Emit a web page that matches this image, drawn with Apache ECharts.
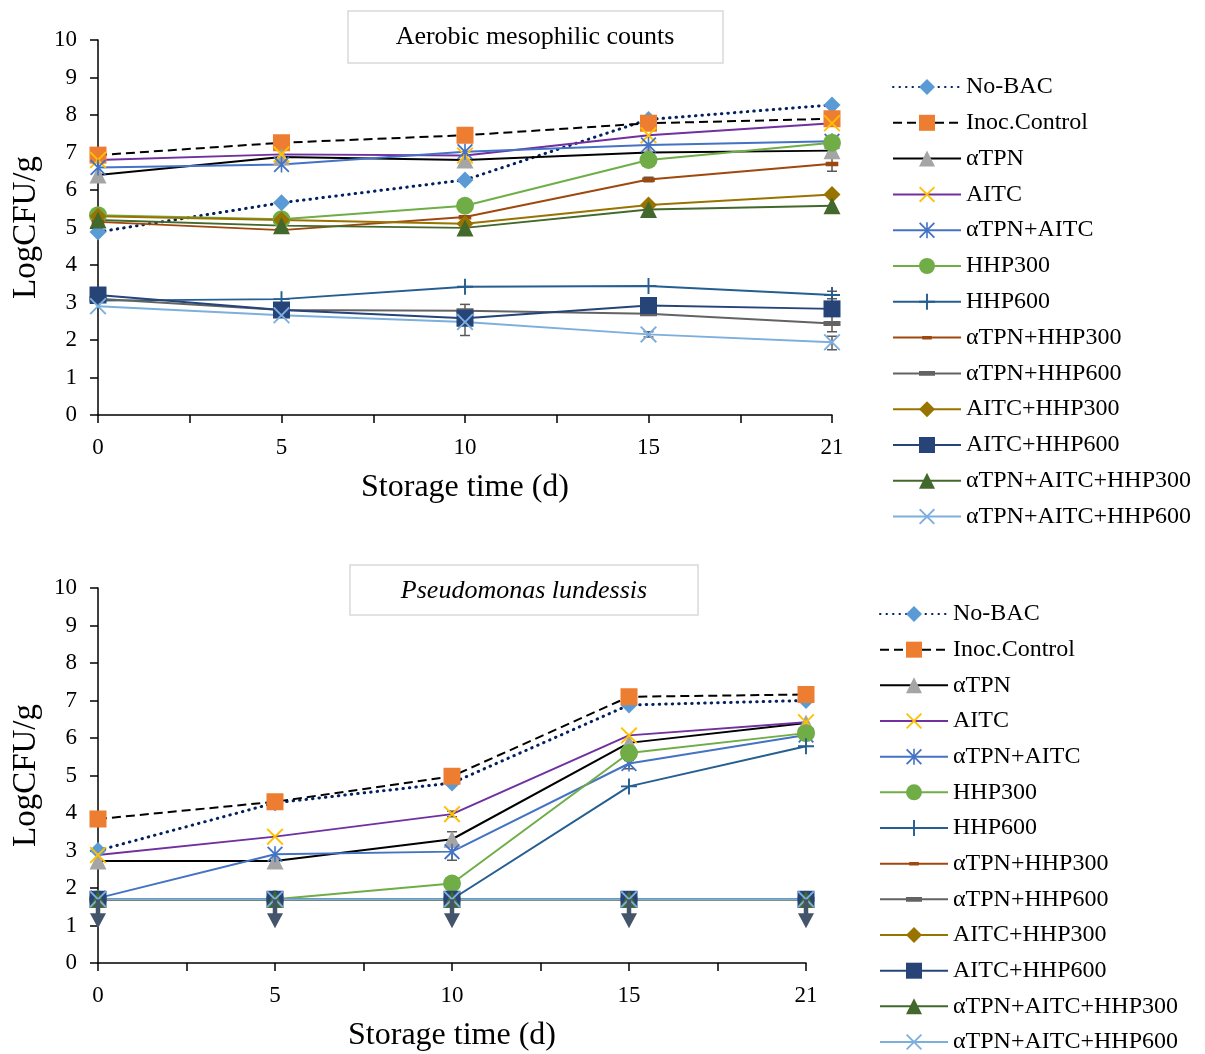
<!DOCTYPE html>
<html><head><meta charset="utf-8">
<script src="https://cdn.jsdelivr.net/npm/echarts@6/dist/echarts.min.js"></script>
<style>html,body{margin:0;padding:0;background:#fff}#c{width:1205px;height:1054px}</style>
</head><body><div id="c"></div>
<script>
// ---------- DATA ----------
const days = ['0', '5', '10', '15', '21'];
const yTicks = [0, 1, 2, 3, 4, 5, 6, 7, 8, 9, 10];
const seriesNames = ['No-BAC', 'Inoc.Control', 'αTPN', 'AITC', 'αTPN+AITC', 'HHP300', 'HHP600',
  'αTPN+HHP300', 'αTPN+HHP600', 'AITC+HHP300', 'AITC+HHP600', 'αTPN+AITC+HHP300', 'αTPN+AITC+HHP600'];
const topTitle = 'Aerobic mesophilic counts';
const bottomTitle = 'Pseudomonas lundessis';
const yName = 'LogCFU/g';
const xName = 'Storage time (d)';

// Top panel: Aerobic mesophilic counts
const amcNoBac      = [4.88, 5.66, 6.27, 7.88, 8.27];
const amcInoc       = [6.93, 7.26, 7.46, 7.78, 7.90];
const amcTPN        = [6.40, 6.88, 6.80, 7.00, 7.05];
const amcAITC       = [6.80, 6.95, 6.92, 7.46, 7.78];
const amcTPNAITC    = [6.60, 6.68, 7.02, 7.20, 7.30];
const amcHHP300     = [5.33, 5.22, 5.58, 6.80, 7.26];
const amcHHP600     = [3.05, 3.09, 3.42, 3.44, 3.20];
const amcTPNHHP300  = [5.15, 4.93, 5.28, 6.28, 6.70];
const amcTPNHHP600  = [3.10, 2.80, 2.78, 2.70, 2.44];
const amcAITCHHP300 = [5.30, 5.20, 5.10, 5.60, 5.88];
const amcAITCHHP600 = [3.20, 2.80, 2.58, 2.92, 2.83];
const amcAllHHP300  = [5.20, 5.05, 4.99, 5.48, 5.58];
const amcAllHHP600  = [2.90, 2.66, 2.48, 2.15, 1.94];
// error bars [dayIndex, low, high]
const amcErrors = [[2, 2.12, 2.95], [4, 2.22, 2.66], [4, 1.74, 2.10], [4, 3.10, 3.30], [4, 6.50, 7.10], [3, 6.22, 6.34], [3, 2.08, 2.22]];

// Bottom panel: Pseudomonas lundessis
const plNoBac      = [3.00, 4.27, 4.80, 6.88, 7.00];
const plInoc       = [3.84, 4.30, 4.98, 7.10, 7.16];
const plTPN        = [2.72, 2.72, 3.30, 5.87, 6.40];
const plAITC       = [2.88, 3.37, 3.97, 6.07, 6.42];
const plTPNAITC    = [1.73, 2.90, 2.97, 5.32, 6.08];
const plHHP300     = [1.70, 1.70, 2.12, 5.60, 6.13];
const plHHP600     = [1.70, 1.70, 1.70, 4.71, 5.78];
const plTPNHHP300  = [1.70, 1.70, 1.70, 1.70, 1.70];
const plTPNHHP600  = [1.70, 1.70, 1.70, 1.70, 1.70];
const plAITCHHP300 = [1.70, 1.70, 1.70, 1.70, 1.70];
const plAITCHHP600 = [1.70, 1.70, 1.70, 1.70, 1.70];
const plAllHHP300  = [1.70, 1.70, 1.70, 1.70, 1.70];
const plAllHHP600  = [1.70, 1.70, 1.70, 1.70, 1.70];
const plErrors = [[2, 3.10, 3.50], [2, 2.74, 3.16], [2, 3.90, 4.05], [3, 5.18, 5.40]];
// detection-limit arrows [dayIndex, from, to]
const plArrows = [[0, 1.70, 0.93], [1, 1.70, 0.93], [2, 1.70, 0.93], [3, 1.70, 0.93], [4, 1.70, 0.93]];

const amcData = [amcNoBac, amcInoc, amcTPN, amcAITC, amcTPNAITC, amcHHP300, amcHHP600,
  amcTPNHHP300, amcTPNHHP600, amcAITCHHP300, amcAITCHHP600, amcAllHHP300, amcAllHHP600];
const plData = [plNoBac, plInoc, plTPN, plAITC, plTPNAITC, plHHP300, plHHP600,
  plTPNHHP300, plTPNHHP600, plAITCHHP300, plAITCHHP600, plAllHHP300, plAllHHP600];

// ---------- STYLES ----------
const FONT = '"Liberation Serif", "Times New Roman", serif';
const X_PATH = 'path://M0,0.8 L0.8,0 L5,4.2 L9.2,0 L10,0.8 L5.8,5 L10,9.2 L9.2,10 L5,5.8 L0.8,10 L0,9.2 L4.2,5 Z';
const STAR_PATH = 'path://M0,0.8 L0.8,0 L10,9.2 L9.2,10 Z M9.2,0 L10,0.8 L0.8,10 L0,9.2 Z M4.5,0 L5.5,0 L5.5,10 L4.5,10 Z';
const PLUS_PATH = 'path://M4.4,0 L5.6,0 L5.6,4.4 L10,4.4 L10,5.6 L5.6,5.6 L5.6,10 L4.4,10 L4.4,5.6 L0,5.6 L0,4.4 L4.4,4.4 Z';
const DASH_S_PATH = 'path://M0,0 L0.01,0 Z M2,4 L8,4 L8,6.2 L2,6.2 Z M10,10 L9.99,10 Z';
const DASH_L_PATH = 'path://M0,0 L0.01,0 Z M0,3.5 L10,3.5 L10,6.5 L0,6.5 Z M10,10 L9.99,10 Z';

const lineColors = ['#002060', '#000000', '#000000', '#7030A0', '#4472C4', '#70AD47', '#255E91',
  '#9E480E', '#636363', '#997300', '#264478', '#43682B', '#7CAFDD'];
const markerColors = ['#5B9BD5', '#ED7D31', '#A5A5A5', '#FFC000', '#4472C4', '#70AD47', '#255E91',
  '#9E480E', '#636363', '#997300', '#264478', '#43682B', '#7CAFDD'];
const symbols = ['diamond', 'rect', 'triangle', X_PATH, STAR_PATH, 'circle', PLUS_PATH,
  DASH_S_PATH, DASH_L_PATH, 'diamond', 'rect', 'triangle', X_PATH];
const symbolSizes = [17, 17, 17, 17, 16, 18, 16, 21, 17, 17, 17, 17, 17];
const lineTypes = [[0.5, 6], [9, 5], 'solid', 'solid', 'solid', 'solid', 'solid', 'solid', 'solid', 'solid', 'solid', 'solid', 'solid'];
const lineWidths = [3, 2, 2, 2, 2, 2, 2, 2, 2, 2, 2, 2, 2];

function makeSeries(dataArr, axisIdx) {
  return dataArr.map((vals, i) => ({
    name: seriesNames[i],
    type: 'line',
    xAxisIndex: axisIdx, yAxisIndex: axisIdx,
    data: vals.map((v, k) => [k, v]),
    symbol: symbols[i],
    symbolSize: symbolSizes[i],
    showAllSymbol: true,
    itemStyle: { color: markerColors[i], opacity: 1 },
    lineStyle: { color: lineColors[i], width: lineWidths[i], type: lineTypes[i], cap: i === 0 ? 'round' : 'butt' },
    z: 3,
    emphasis: { disabled: true }
  }));
}

function errRender(params, api) {
  const x = api.value(0), lo = api.value(1), hi = api.value(2);
  const p1 = api.coord([x, lo]), p2 = api.coord([x, hi]);
  const w = 5, st = { stroke: '#595959', lineWidth: 1.5 };
  return { type: 'group', children: [
    { type: 'line', shape: { x1: p1[0], y1: p1[1], x2: p2[0], y2: p2[1] }, style: st },
    { type: 'line', shape: { x1: p1[0] - w, y1: p1[1], x2: p1[0] + w, y2: p1[1] }, style: st },
    { type: 'line', shape: { x1: p2[0] - w, y1: p2[1], x2: p2[0] + w, y2: p2[1] }, style: st }
  ]};
}
function arrowRender(params, api) {
  const x = api.value(0), from = api.value(1), to = api.value(2);
  const p1 = api.coord([x, from]), tip = api.coord([x, to]);
  const headLen = 15, headW = 8, col = '#44546A';
  const base = tip[1] - headLen;
  return { type: 'group', children: [
    { type: 'line', shape: { x1: p1[0], y1: p1[1], x2: p1[0], y2: base + 1 }, style: { stroke: col, lineWidth: 4.5 } },
    { type: 'polygon', shape: { points: [[tip[0] - headW, base], [tip[0] + headW, base], [tip[0], tip[1]]] }, style: { fill: col } }
  ]};
}

function xAxisCfg(idx) {
  return {
    type: 'value', gridIndex: idx, min: 0, max: days.length - 1, interval: 1,
    name: xName, nameLocation: 'middle', nameGap: 57,
    nameTextStyle: { fontFamily: FONT, fontSize: 32, color: '#000', verticalAlign: 'top' },
    axisLine: { show: true, onZero: false, lineStyle: { color: '#000', width: 1.5 } },
    axisTick: { show: true, inside: false, length: 8, lineStyle: { color: '#000', width: 1.5 } },
    minorTick: { show: true, splitNumber: 2, length: 8, lineStyle: { color: '#000', width: 1.5 } },
    axisLabel: { fontFamily: FONT, fontSize: 23, color: '#000', margin: 21, formatter: v => days[v] },
    splitLine: { show: false }, minorSplitLine: { show: false }
  };
}
function yAxisCfg(idx) {
  return {
    type: 'value', gridIndex: idx, min: yTicks[0], max: yTicks[yTicks.length - 1], interval: 1,
    name: yName, nameLocation: 'middle', nameGap: 51, nameRotate: 90,
    nameTextStyle: { fontFamily: FONT, fontSize: 33, color: '#000' },
    axisLine: { show: true, lineStyle: { color: '#000', width: 1.5 } },
    axisTick: { show: true, inside: false, length: 8, lineStyle: { color: '#000', width: 1.5 } },
    axisLabel: { fontFamily: FONT, fontSize: 23, color: '#000', margin: 21 },
    splitLine: { show: false }
  };
}
function legendCfg(left, top, gap) {
  return {
    orient: 'vertical', left: left, top: top, height: 480, padding: 0,
    itemWidth: 68, itemHeight: 20, itemGap: gap,
    data: seriesNames,
    selectedMode: false,
    textStyle: { fontFamily: FONT, fontSize: 24, color: '#000', lineHeight: 24, padding: [0, 0, 0, 0] }
  };
}

const chart = echarts.init(document.getElementById('c'), null, { renderer: 'canvas' });
const series = [
  { name: 'err-top', type: 'custom', xAxisIndex: 0, yAxisIndex: 0, renderItem: errRender, data: amcErrors, encode: { x: 0, y: [1, 2] }, z: 2, silent: true },
  { name: 'err-bottom', type: 'custom', xAxisIndex: 1, yAxisIndex: 1, renderItem: errRender, data: plErrors, encode: { x: 0, y: [1, 2] }, z: 2, silent: true },
  ...makeSeries(amcData, 0),
  ...makeSeries(plData, 1),
  { name: 'arrows', type: 'custom', xAxisIndex: 1, yAxisIndex: 1, renderItem: arrowRender, data: plArrows, encode: { x: 0, y: [1, 2] }, z: 4, silent: true }
];

chart.setOption({
  animation: false,
  backgroundColor: '#fff',
  grid: [
    { left: 98, top: 40, width: 734, height: 375, containLabel: false, outerBoundsMode: 'none' },
    { left: 98, top: 588, width: 708, height: 375, containLabel: false, outerBoundsMode: 'none' }
  ],
  xAxis: [xAxisCfg(0), xAxisCfg(1)],
  yAxis: [yAxisCfg(0), yAxisCfg(1)],
  legend: [legendCfg(892, 75, 11.8), legendCfg(879, 602, 11.67)],
  series: series,
  graphic: [
    { type: 'rect', z: 10, shape: { x: 348, y: 11, width: 375, height: 52 }, style: { fill: '#fff', stroke: '#D9D9D9', lineWidth: 1.5 } },
    { type: 'text', z: 11, x: 535, y: 37, style: { text: topTitle, fontFamily: FONT, fontSize: 26, fill: '#000', align: 'center', verticalAlign: 'middle' } },
    { type: 'rect', z: 10, shape: { x: 350, y: 565, width: 348, height: 50 }, style: { fill: '#fff', stroke: '#D9D9D9', lineWidth: 1.5 } },
    { type: 'text', z: 11, x: 524, y: 591, style: { text: bottomTitle, fontFamily: FONT, fontSize: 26, fontStyle: 'italic', fill: '#000', align: 'center', verticalAlign: 'middle' } }
  ]
});
</script>
</body></html>
